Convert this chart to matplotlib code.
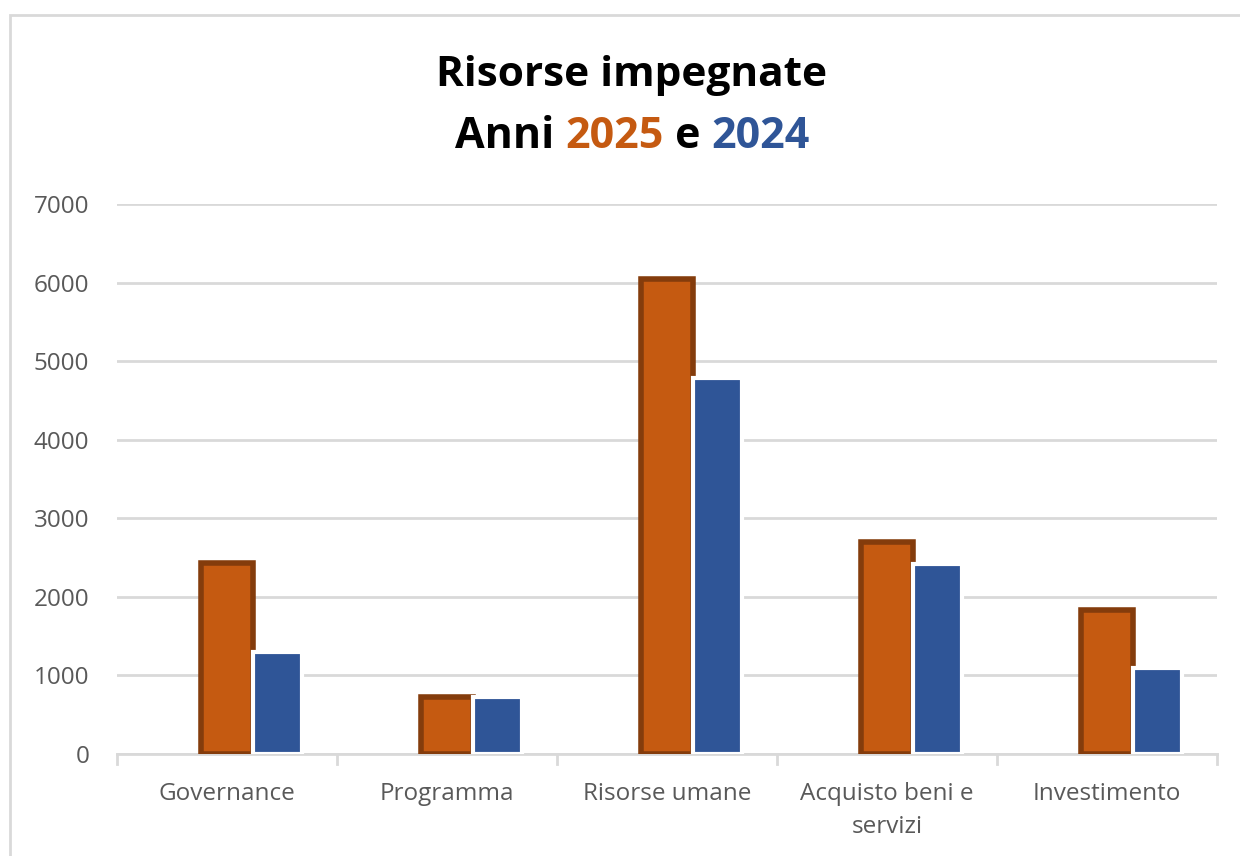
import numpy as np
import matplotlib
matplotlib.use("Agg")
import matplotlib.pyplot as plt
from matplotlib.patches import Rectangle

# ==============
# Dati
# ==============
categorie = ["Governance", "Programma", "Risorse umane", "Acquisto beni e\nservizi", "Investimento"]
valori_2025 = [2430, 730, 6040, 2700, 1830]
valori_2024 = [1300, 720, 4780, 2420, 1090]
y_ticks = [0, 1000, 2000, 3000, 4000, 5000, 6000, 7000]

ORANGE = "#C55A11"
ORANGE_EDGE = "#843C0C"
BLUE = "#2F5597"
GRID = "#D9D9D9"
TXT = "#595959"

plt.rcParams["font.family"] = ["Open Sans", "DejaVu Sans"]

fig = plt.figure(figsize=(12.4, 8.56), dpi=100)

# cornice del grafico
fig.patches.append(Rectangle((10 / 1240, -0.1), 1.2, 1 - 15 / 856 + 0.1,
                             transform=fig.transFigure, fill=False,
                             edgecolor=GRID, linewidth=2))

ax = fig.add_axes([117 / 1240, 1 - 754 / 856, 1100 / 1240, 550 / 856])

x = np.arange(len(categorie))
ax.bar(x + 0.0, valori_2025, width=0.235, color=ORANGE, edgecolor=ORANGE_EDGE,
       linewidth=4, zorder=3)
ax.bar(x + 0.23, valori_2024, width=0.225, color=BLUE, edgecolor="white",
       linewidth=3, zorder=4)

ax.set_xlim(-0.5, len(categorie) - 0.5)
ax.set_ylim(0, 7000)
ax.set_yticks(y_ticks)
ax.set_yticklabels([str(v) for v in y_ticks], fontsize=17.5, color=TXT)
ax.tick_params(axis="y", length=0, pad=20)
ax.yaxis.grid(True, color=GRID, linewidth=2, zorder=0)
ax.set_axisbelow(True)

ax.set_xticks(x)
ax.set_xticklabels(categorie, fontsize=17.5, color=TXT, linespacing=1.5)
ax.tick_params(axis="x", length=0, pad=20)
# tacche tra le categorie
for b in np.arange(-0.5, len(categorie), 1.0):
    ax.plot([b, b], [0, -0.018], transform=ax.get_xaxis_transform(),
            color=GRID, linewidth=2, clip_on=False)

for s in ["top", "right", "left"]:
    ax.spines[s].set_visible(False)
ax.spines["bottom"].set_color(GRID)
ax.spines["bottom"].set_linewidth(2)

# titolo
fig.text(632 / 1240, 1 - 76 / 856, "Risorse impegnate", ha="center", va="center",
         fontsize=30.5, fontweight="bold", color="black")

parti = [("Anni ", "black"), ("2025", ORANGE), (" e ", "black"), ("2024", BLUE)]
renderer = fig.canvas.get_renderer()
testi = []
larghezze = []
for t, c in parti:
    tt = fig.text(0, 0, t, fontsize=31, fontweight="bold", color=c, va="center")
    larghezze.append(tt.get_window_extent(renderer).width)
    testi.append(tt)
tot = sum(larghezze)
x0 = 632 - tot / 2
y1 = 856 - 136
for tt, w in zip(testi, larghezze):
    tt.set_position((x0 / 1240, y1 / 856))
    x0 += w

fig.savefig("out.png", dpi=100)
